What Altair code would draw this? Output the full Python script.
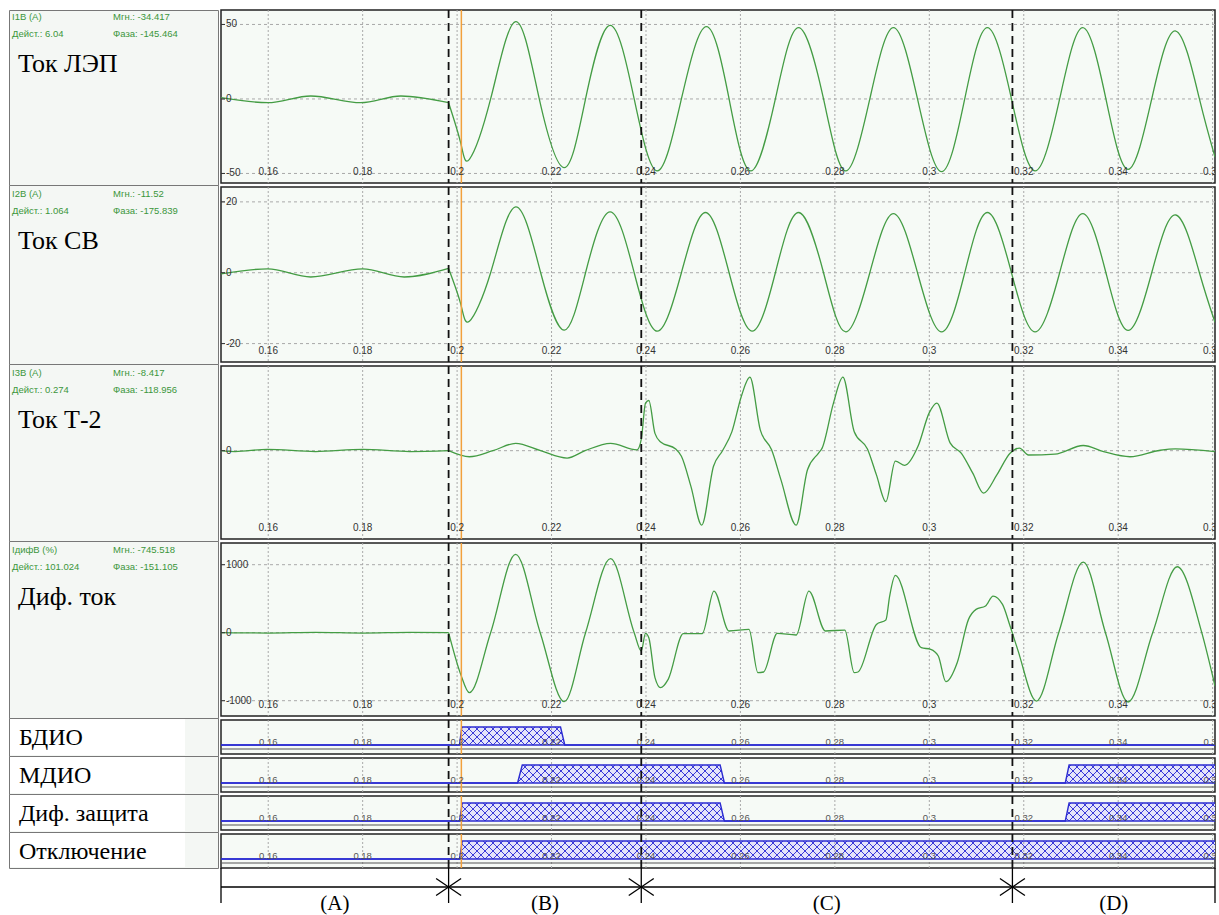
import math
import altair as alt
import pandas as pd

# ---------------- data ----------------
T0, T1 = 0.150, 0.3605
tick_t = [0.16, 0.18, 0.20, 0.22, 0.24, 0.26, 0.28, 0.30, 0.32, 0.34, 0.36]
tick_lbl = ["0.16", "0.18", "0.2", "0.22", "0.24", "0.26", "0.28", "0.3", "0.32", "0.34", "0.36"]
event_t = [0.1982, 0.2390, 0.3176]
cursor_t = [0.2009]
stage_names = ["(A)", "(B)", "(C)", "(D)"]

label_ids = ["I1B (A)", "I2B (A)", "I3B (A)", "IдифB (%)"]
label_inst = ["Мгн.: -34.417", "Мгн.: -11.52", "Мгн.: -8.417", "Мгн.: -745.518"]
label_rms = ["Дейст.: 6.04", "Дейст.: 1.064", "Дейст.: 0.274", "Дейст.: 101.024"]
label_phase = ["Фаза: -145.464", "Фаза: -175.839", "Фаза: -118.956", "Фаза: -151.105"]
label_names = ["Ток ЛЭП", "Ток СВ", "Ток Т-2", "Диф. ток"]
digital_names = ["БДИО", "МДИО", "Диф. защита", "Отключение"]

# Ток ЛЭП
t1 = [0.1500, 0.1599, 0.1690, 0.1796, 0.1881, 0.1982, 0.2008, 0.2026, 0.2071, 0.2124,
      0.2174, 0.2227, 0.2272, 0.2324, 0.2375, 0.2424, 0.2475, 0.2528, 0.2576, 0.2622,
      0.2674, 0.2723, 0.2776, 0.2823, 0.2874, 0.2924, 0.2975, 0.3026, 0.3075, 0.3123,
      0.3174, 0.3224, 0.3276, 0.3325, 0.3374, 0.3421, 0.3471, 0.3522, 0.3572, 0.3605]
v1 = [0.9, -2.5, 2.0, -2.5, 2.0, -2.5, -30, -40.5, 0, 51.9,
      0, -46.1, 0, 49.4, 0, -48.3, 0, 48.5, 0, -48.3,
      0, 47.9, 0, -48.3, 0, 47.9, 0, -48.8, 0, 47.9,
      0, -48.3, 0, 47.9, 0, -47.2, 0, 45.6, 0, -39]

# Ток СВ
t2 = [0.1500, 0.1599, 0.1690, 0.1800, 0.1888, 0.1982, 0.2008, 0.2026, 0.2071, 0.2124,
      0.2177, 0.2227, 0.2272, 0.2324, 0.2375, 0.2424, 0.2475, 0.2526, 0.2576, 0.2625,
      0.2674, 0.2723, 0.2776, 0.2823, 0.2874, 0.2924, 0.2975, 0.3026, 0.3075, 0.3123,
      0.3174, 0.3224, 0.3276, 0.3325, 0.3374, 0.3421, 0.3471, 0.3522, 0.3572, 0.3605]
v2 = [-0.3, 1.1, -1.2, 1.1, -1.2, 1.2, -9.0, -13.7, 0, 18.6,
      0, -16.2, 0, 17.2, 0, -16.5, 0, 17.0, 0, -16.5,
      0, 17.0, 0, -16.7, 0, 16.7, 0, -16.7, 0, 17.0,
      0, -16.7, 0, 16.7, 0, -16.3, 0, 16.3, 0, -14]

# Ток Т-2
t3 = [0.1500, 0.1530, 0.1598, 0.1700, 0.1800, 0.1900, 0.1982, 0.2026, 0.2076, 0.2124,
      0.2177, 0.2233, 0.2271, 0.2325, 0.2381, 0.2390, 0.2399, 0.2406, 0.2419, 0.2431,
      0.2463, 0.2475, 0.2495, 0.2518, 0.2543, 0.2562, 0.2582, 0.2602, 0.2620, 0.2642,
      0.2666, 0.2686, 0.2718, 0.2742, 0.2765, 0.2773, 0.2797, 0.2817, 0.2841, 0.2869,
      0.2888, 0.2908, 0.2928, 0.2948, 0.2976, 0.3000, 0.3016, 0.3044, 0.3068, 0.3092,
      0.3115, 0.3143, 0.3171, 0.3191, 0.3210, 0.3266, 0.3326, 0.3369, 0.3425, 0.3489,
      0.3521, 0.3605]
v3 = [0, -0.1, 0.15, -0.1, 0.15, -0.1, 0, -0.7, 0, 0.85,
      0, -0.85, 0, 0.85, 0.1, 1.3, 5.5, 5.8, 2.0, 1.0,
      0.2, -0.65, -4.1, -8.6, -1.8, 0, 2.2, 6.3, 8.5, 2.4,
      0.1, -3.4, -8.6, -2.2, -0.3, 0.3, 5.5, 8.5, 2.2, 0.2,
      -2.8, -5.9, -1.2, -1.7, 0.5, 4.4, 5.5, 0.9, -0.3, -2.6,
      -4.9, -2.8, -0.3, 0.3, -0.5, -0.4, 0.6, -0.1, -0.7, 0.05,
      0.2, -0.1]

# Диф. ток
t4 = [0.1500, 0.1600, 0.1700, 0.1800, 0.1900, 0.1982, 0.2008, 0.2026, 0.2071, 0.2124,
      0.2176, 0.2227, 0.2272, 0.2325, 0.2375, 0.2390, 0.2399, 0.2406, 0.2419, 0.2431,
      0.2447, 0.2479, 0.2519, 0.2544, 0.2576, 0.2618, 0.2637, 0.2649, 0.2678, 0.2718,
      0.2745, 0.2780, 0.2821, 0.2841, 0.2849, 0.2888, 0.2908, 0.2916, 0.2928, 0.2983,
      0.3003, 0.3019, 0.3035, 0.3059, 0.3083, 0.3099, 0.3119, 0.3135, 0.3155, 0.3171,
      0.3187, 0.3227, 0.3274, 0.3326, 0.3373, 0.3421, 0.3473, 0.3525, 0.3577, 0.3605]
v4 = [0, -5, 5, -5, 5, 0, -620, -882, 0, 1152,
      0, -1014, 0, 1088, 0, -270, -10, -73, -660, -808,
      -686, -15, -15, 612, 25, 49, -588, -578, -10, -34,
      612, 25, 39, -588, -578, 122, 186, 539, 843, -220,
      -245, -343, -720, -441, 196, 343, 392, 539, 416, 98,
      -245, -1005, 0, 1039, 0, -1019, 0, 970, 0, -784]

# digital channels: (on, off, rise, fall)
dig_intervals = [
    [(0.2005, 0.2228, 0.0005, 0.0009)],
    [(0.2128, 0.2566, 0.0010, 0.0009), (0.3288, 0.3700, 0.0008, 0.0008)],
    [(0.2005, 0.2566, 0.0006, 0.0009), (0.3288, 0.3700, 0.0008, 0.0008)],
    [(0.2005, 0.3700, 0.0006, 0.0008)],
]

# ---------------- style ----------------
PLOT_W = 994
LABEL_W = 209
GAP = 4
ROW_H = [173, 175, 173, 173]
DIG_H = 34
BR_H = 44
Y_DOM = [[-56.4, 59.7], [-25.2, 24.2], [-10.21, 9.79], [-1225, 1319]]
Y_TICKS = [[50, 0, -50], [20, 0, -20], [0], [1000, 0, -1000]]
Y_TLBL = [["50", "0", "-50"], ["20", "0", "-20"], ["0"], ["1000", "0", "-1000"]]
SMOOTH = ["natural", "natural", "monotone", "monotone"]

GREEN_TXT = "#3b963b"
WAVE = "#449c44"
GRID = "#a9a9a9"
BLUE = "#2c2cd2"
HATCH = "#3b3bd8"
PLOT_BG = "#f6faf6"
CELL_BG = "#f4f7f4"
SANS = "Liberation Sans"
SERIF = "Liberation Serif"

xs = alt.Scale(domain=[T0, T1], nice=False, zero=False)
ticks_df = pd.DataFrame({"t": tick_t, "lbl": tick_lbl})
events_df = pd.DataFrame({"t": event_t})
cursor_df = pd.DataFrame({"t": cursor_t})


def X(field="t"):
    return alt.X(f"{field}:Q", scale=xs, axis=None)


def common_layers(h, lbl_y, lbl_size, lbl_color):
    grid = alt.Chart(ticks_df).mark_rule(color=GRID, strokeDash=[2, 2], strokeWidth=1).encode(x=X())
    ev = alt.Chart(events_df).mark_rule(color="#111111", strokeDash=[8, 5], strokeWidth=1.8).encode(x=X())
    cur = alt.Chart(cursor_df).mark_rule(color="#f2a03c", strokeWidth=1.5).encode(x=X())
    lbl = alt.Chart(ticks_df).mark_text(
        fontSize=lbl_size, font=SANS, color=lbl_color, baseline="middle", clip=True
    ).encode(x=X(), y=alt.value(lbl_y), text="lbl:N")
    return grid, ev, cur, lbl


def analog(i):
    df = pd.DataFrame({"t": [t1, t2, t3, t4][i], "v": [v1, v2, v3, v4][i]})
    pre = df[df.t <= event_t[0]]
    post = df[df.t >= event_t[0]]
    h = ROW_H[i]
    ys = alt.Scale(domain=Y_DOM[i], nice=False, zero=False)
    ydf = pd.DataFrame({"y": Y_TICKS[i], "lbl": Y_TLBL[i]})
    Y = lambda f: alt.Y(f"{f}:Q", scale=ys, axis=None)
    hgrid = alt.Chart(ydf).mark_rule(color=GRID, strokeDash=[3, 3], strokeWidth=1).encode(y=Y("y"))
    ytk = alt.Chart(ydf).mark_rule(color="#333333", strokeWidth=1).encode(
        y=Y("y"), x=alt.value(0), x2=alt.value(4))
    ytxt = alt.Chart(ydf).mark_text(align="left", baseline="middle", fontSize=10, font=SANS,
                                    color="#333333").encode(y=Y("y"), x=alt.value(5), text="lbl:N")
    l_pre = alt.Chart(pre).mark_line(color=WAVE, strokeWidth=1.3, interpolate="monotone",
                                     clip=True).encode(x=X(), y=Y("v"))
    l_post = alt.Chart(post).mark_line(color=WAVE, strokeWidth=1.3, interpolate=SMOOTH[i],
                                       clip=True).encode(x=X(), y=Y("v"))
    grid, ev, cur, lbl = common_layers(h, h - 11, 10, "#333333")
    return alt.layer(grid, hgrid, l_pre, l_post, ev, cur, lbl, ytk, ytxt).properties(
        width=PLOT_W, height=h,
        view=alt.ViewBackground(fill=PLOT_BG, stroke="#222222", strokeWidth=1.5))


DIG_TOP_PX, DIG_BASE_PX = 7, 25
UNIT_PX = DIG_BASE_PX - DIG_TOP_PX
dys = alt.Scale(domain=[-(DIG_H - DIG_BASE_PX) / UNIT_PX, 1 + DIG_TOP_PX / UNIT_PX], nice=False, zero=False)
PX_PER_T = PLOT_W / (T1 - T0)
K = UNIT_PX / PX_PER_T
STEP = 8 / PX_PER_T


def hatch_segments(intervals):
    rows = []
    for (a, b, rl, rr) in intervals:
        c = T0 + math.floor((a - K - T0) / STEP) * STEP
        while c <= b:
            ylo = max(0.0, (a - c) / (K - rl))
            yhi = min(1.0, (b - c) / (K + rr))
            if yhi > ylo:
                rows.append({"xa": c + K * ylo, "ya": ylo, "xb": c + K * yhi, "yb": yhi})
            c += STEP
        c = T0 + math.floor((a - T0) / STEP) * STEP
        while c <= b + K:
            ylo = max(0.0, (c - b) / (K - rr))
            yhi = min(1.0, (c - a) / (K + rl))
            if yhi > ylo:
                rows.append({"xa": c - K * ylo, "ya": ylo, "xb": c - K * yhi, "yb": yhi})
            c += STEP
    return pd.DataFrame(rows)


def signal_points(intervals):
    pts = [(T0, 0)]
    for (a, b, rl, rr) in intervals:
        pts += [(a, 0), (a + rl, 1), (b - rr, 1), (b, 0)]
    if intervals[-1][1] < T1:
        pts.append((T1, 0))
    return pd.DataFrame({"t": [p[0] for p in pts], "v": [p[1] for p in pts]})


def digital(i):
    iv = dig_intervals[i]
    sig = signal_points(iv)
    hat = hatch_segments(iv)
    Yd = lambda f: alt.Y(f"{f}:Q", scale=dys, axis=None)
    grid, ev, cur, lbl = common_layers(DIG_H, DIG_BASE_PX - 3, 9.5, "#555555")
    fill = alt.Chart(sig).mark_area(color="#e4e4fa", clip=True, interpolate="linear").encode(
        x=X(), y=Yd("v"), y2=alt.datum(0))
    hlines = alt.Chart(hat).mark_rule(color=HATCH, strokeWidth=1, clip=True).encode(
        x=X("xa"), x2="xb:Q", y=Yd("ya"), y2="yb:Q")
    base = alt.Chart(pd.DataFrame({"v": [0]})).mark_rule(color=BLUE, strokeWidth=1.4).encode(y=Yd("v"))
    line = alt.Chart(sig).mark_line(color=BLUE, strokeWidth=1.4, clip=True).encode(x=X(), y=Yd("v"))
    under = alt.Chart(pd.DataFrame({"v": [0]})).mark_rule(color="#555555", strokeWidth=1).encode(
        y=alt.value(DIG_BASE_PX + 4), x=alt.value(0), x2=alt.value(PLOT_W))
    return alt.layer(fill, grid, hlines, base, line, under, ev, cur, lbl).properties(
        width=PLOT_W, height=DIG_H,
        view=alt.ViewBackground(fill=PLOT_BG, stroke="#222222", strokeWidth=1.5))


def bracket():
    bounds_t = [T0] + event_t + [T1]
    vdf = pd.DataFrame({"t": bounds_t})
    hdf = pd.DataFrame({"a": [T0], "b": [T1]})
    dx = 12.5 / PX_PER_T
    xdf = pd.DataFrame({"lo": [t - dx for t in event_t], "hi": [t + dx for t in event_t]})
    ldf = pd.DataFrame({"mid": [(bounds_t[j] + bounds_t[j + 1]) / 2 for j in range(4)], "lbl": stage_names})
    vert = alt.Chart(vdf).mark_rule(color="black", strokeWidth=1.3).encode(
        x=X(), y=alt.value(-4), y2=alt.value(31))
    horiz = alt.Chart(hdf).mark_rule(color="black", strokeWidth=1.3).encode(
        x=X("a"), x2="b:Q", y=alt.value(15))
    x1 = alt.Chart(xdf).mark_rule(color="black", strokeWidth=1.3).encode(
        x=X("lo"), x2="hi:Q", y=alt.value(6.5), y2=alt.value(23.5))
    x2 = alt.Chart(xdf).mark_rule(color="black", strokeWidth=1.3).encode(
        x=X("lo"), x2="hi:Q", y=alt.value(23.5), y2=alt.value(6.5))
    txt = alt.Chart(ldf).mark_text(font=SERIF, fontSize=21, baseline="middle", color="black").encode(
        x=X("mid"), y=alt.value(32), text="lbl:N")
    return alt.layer(horiz, vert, x1, x2, txt).properties(
        width=PLOT_W, height=BR_H,
        view=alt.ViewBackground(fill="transparent", stroke="transparent"))


def text_at(txt, x, y, size, color, font, baseline="middle"):
    return alt.Chart(pd.DataFrame({"s": [txt]})).mark_text(
        align="left", baseline=baseline, fontSize=size, color=color, font=font
    ).encode(x=alt.value(x), y=alt.value(y), text="s:N")


def label_cell(i, h, off):
    layers = [
        text_at(label_ids[i], 3, off + 6.5, 9.5, GREEN_TXT, SANS),
        text_at(label_inst[i], 104, off + 6.5, 9.5, GREEN_TXT, SANS),
        text_at(label_rms[i], 3, off + 24, 9.5, GREEN_TXT, SANS),
        text_at(label_phase[i], 104, off + 24, 9.5, GREEN_TXT, SANS),
        text_at(label_names[i], 9, off + 62, 26, "black", SERIF, "alphabetic"),
    ]
    return alt.layer(*layers).properties(
        width=LABEL_W, height=h,
        view=alt.ViewBackground(fill=CELL_BG, stroke="#777777", strokeWidth=1))


def digital_cell(i, h, off):
    bg = alt.Chart(pd.DataFrame({"s": [""]})).mark_rect(color="white").encode(
        x=alt.value(1), x2=alt.value(176), y=alt.value(1), y2=alt.value(h - 1))
    t = text_at(digital_names[i], 10, off + 25, 24, "black", SERIF, "alphabetic")
    return alt.layer(bg, t).properties(
        width=LABEL_W, height=h,
        view=alt.ViewBackground(fill=CELL_BG, stroke="#777777", strokeWidth=1))


half = GAP // 2
left_cells = []
for i in range(4):
    h = ROW_H[i] + (half if i == 0 else GAP)
    left_cells.append(label_cell(i, h, 0 if i == 0 else half))
for i in range(4):
    h = DIG_H + (half if i == 3 else GAP)
    left_cells.append(digital_cell(i, h, half))

right_rows = [analog(i) for i in range(4)] + [digital(i) for i in range(4)] + [bracket()]

left_col = alt.vconcat(*left_cells, spacing=0, bounds="flush")
right_col = alt.vconcat(*right_rows, spacing=GAP, bounds="flush")

chart = alt.hconcat(left_col, right_col, spacing=0).properties(
    padding={"left": 8, "top": 8, "right": 0, "bottom": 0},
    background="white",
).configure(font=SANS)

chart.save("out.html", embed_options={"renderer": "svg", "actions": False})
